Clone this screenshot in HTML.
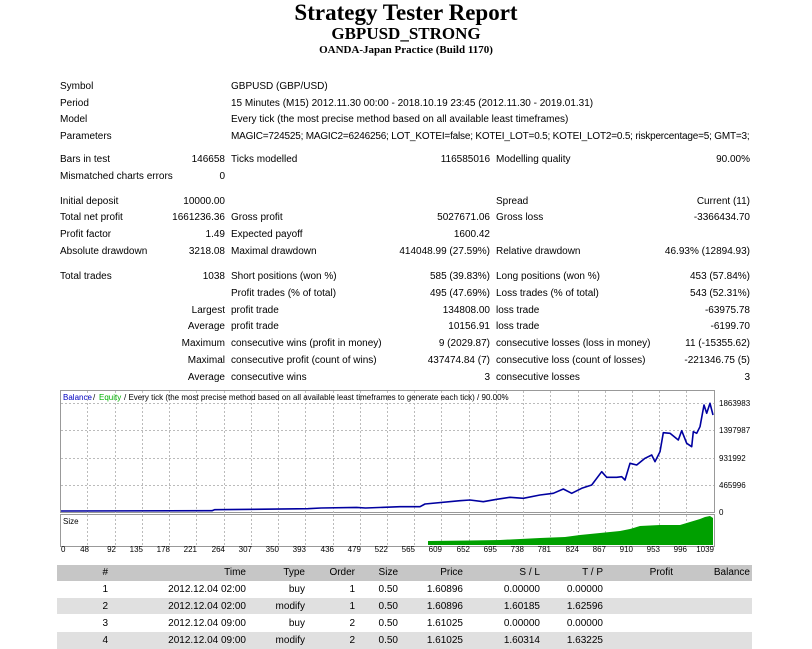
<!DOCTYPE html>
<html><head><meta charset="utf-8"><style>
body{margin:0;width:812px;height:649px;background:#fff;position:relative;overflow:hidden;font-family:"Liberation Sans",sans-serif;font-size:10px;color:#000}
.t{position:absolute;white-space:nowrap;line-height:12px}
.r{text-align:right}
.h{position:absolute;left:0;width:812px;text-align:center;font-family:"Liberation Serif",serif;font-weight:bold;white-space:nowrap}
</style></head><body>
<div class="h" style="top:1px;font-size:23px;line-height:24px">Strategy Tester Report</div>
<div class="h" style="top:24px;font-size:17px;line-height:19px">GBPUSD_STRONG</div>
<div class="h" style="top:44px;font-size:11px;line-height:13px">OANDA-Japan Practice (Build 1170)</div>

<div class="t" style="left:60px;top:81px">Symbol</div><div class="t" style="left:231px;top:81px">GBPUSD (GBP/USD)</div>
<div class="t" style="left:60px;top:98px">Period</div><div class="t" style="left:231px;top:98px">15 Minutes (M15) 2012.11.30 00:00 - 2018.10.19 23:45 (2012.11.30 - 2019.01.31)</div>
<div class="t" style="left:60px;top:114px">Model</div><div class="t" style="left:231px;top:114px">Every tick (the most precise method based on all available least timeframes)</div>
<div class="t" style="left:60px;top:131px">Parameters</div><div class="t" style="left:231px;top:131px;letter-spacing:-0.2px">MAGIC=724525; MAGIC2=6246256; LOT_KOTEI=false; KOTEI_LOT=0.5; KOTEI_LOT2=0.5; riskpercentage=5; GMT=3;</div>

<div class="t" style="left:60px;top:154px">Bars in test</div><div class="t r" style="right:587px;top:154px">146658</div>
<div class="t" style="left:231px;top:154px">Ticks modelled</div><div class="t r" style="right:322px;top:154px">116585016</div>
<div class="t" style="left:496px;top:154px">Modelling quality</div><div class="t r" style="right:62px;top:154px">90.00%</div>
<div class="t" style="left:60px;top:171px">Mismatched charts errors</div><div class="t r" style="right:587px;top:171px">0</div>

<div class="t" style="left:60px;top:196px">Initial deposit</div><div class="t r" style="right:587px;top:196px">10000.00</div>
<div class="t" style="left:496px;top:196px">Spread</div><div class="t r" style="right:62px;top:196px">Current (11)</div>
<div class="t" style="left:60px;top:212px">Total net profit</div><div class="t r" style="right:587px;top:212px">1661236.36</div>
<div class="t" style="left:231px;top:212px">Gross profit</div><div class="t r" style="right:322px;top:212px">5027671.06</div>
<div class="t" style="left:496px;top:212px">Gross loss</div><div class="t r" style="right:62px;top:212px">-3366434.70</div>
<div class="t" style="left:60px;top:229px">Profit factor</div><div class="t r" style="right:587px;top:229px">1.49</div>
<div class="t" style="left:231px;top:229px">Expected payoff</div><div class="t r" style="right:322px;top:229px">1600.42</div>
<div class="t" style="left:60px;top:246px">Absolute drawdown</div><div class="t r" style="right:587px;top:246px">3218.08</div>
<div class="t" style="left:231px;top:246px">Maximal drawdown</div><div class="t r" style="right:322px;top:246px">414048.99 (27.59%)</div>
<div class="t" style="left:496px;top:246px">Relative drawdown</div><div class="t r" style="right:62px;top:246px">46.93% (12894.93)</div>

<div class="t" style="left:60px;top:271px">Total trades</div><div class="t r" style="right:587px;top:271px">1038</div>
<div class="t" style="left:231px;top:271px">Short positions (won %)</div><div class="t r" style="right:322px;top:271px">585 (39.83%)</div>
<div class="t" style="left:496px;top:271px">Long positions (won %)</div><div class="t r" style="right:62px;top:271px">453 (57.84%)</div>
<div class="t" style="left:231px;top:288px">Profit trades (% of total)</div><div class="t r" style="right:322px;top:288px">495 (47.69%)</div>
<div class="t" style="left:496px;top:288px">Loss trades (% of total)</div><div class="t r" style="right:62px;top:288px">543 (52.31%)</div>
<div class="t r" style="right:587px;top:305px">Largest</div><div class="t" style="left:231px;top:305px">profit trade</div><div class="t r" style="right:322px;top:305px">134808.00</div>
<div class="t" style="left:496px;top:305px">loss trade</div><div class="t r" style="right:62px;top:305px">-63975.78</div>
<div class="t r" style="right:587px;top:321px">Average</div><div class="t" style="left:231px;top:321px">profit trade</div><div class="t r" style="right:322px;top:321px">10156.91</div>
<div class="t" style="left:496px;top:321px">loss trade</div><div class="t r" style="right:62px;top:321px">-6199.70</div>
<div class="t r" style="right:587px;top:338px">Maximum</div><div class="t" style="left:231px;top:338px">consecutive wins (profit in money)</div><div class="t r" style="right:322px;top:338px">9 (2029.87)</div>
<div class="t" style="left:496px;top:338px">consecutive losses (loss in money)</div><div class="t r" style="right:62px;top:338px">11 (-15355.62)</div>
<div class="t r" style="right:587px;top:355px">Maximal</div><div class="t" style="left:231px;top:355px">consecutive profit (count of wins)</div><div class="t r" style="right:322px;top:355px">437474.84 (7)</div>
<div class="t" style="left:496px;top:355px">consecutive loss (count of losses)</div><div class="t r" style="right:62px;top:355px">-221346.75 (5)</div>
<div class="t r" style="right:587px;top:372px">Average</div><div class="t" style="left:231px;top:372px">consecutive wins</div><div class="t r" style="right:322px;top:372px">3</div>
<div class="t" style="left:496px;top:372px">consecutive losses</div><div class="t r" style="right:62px;top:372px">3</div>

<svg style="position:absolute;left:0;top:0" width="812" height="649">
<g font-family="Liberation Sans, sans-serif" font-size="8">
<rect x="60.5" y="390.5" width="654" height="122" fill="#fff" stroke="#999"/>
<rect x="60.5" y="514.5" width="654" height="32" fill="#fff" stroke="#999"/>
<g stroke="#bbb" stroke-dasharray="2,2" stroke-width="1">
<line x1="61" x2="714" y1="403.5" y2="403.5"/><line x1="61" x2="714" y1="430.5" y2="430.5"/><line x1="61" x2="714" y1="458.5" y2="458.5"/><line x1="61" x2="714" y1="485.5" y2="485.5"/>
<path d="M87.5 391V546M115.5 391V546M142.5 391V546M169.5 391V546M196.5 391V546M224.5 391V546M251.5 391V546M278.5 391V546M305.5 391V546M333.5 391V546M360.5 391V546M387.5 391V546M414.5 391V546M441.5 391V546M469.5 391V546M496.5 391V546M523.5 391V546M550.5 391V546M578.5 391V546M605.5 391V546M632.5 391V546M659.5 391V546M686.5 391V546"/>
</g>
<line x1="60" x2="715" y1="513.5" y2="513.5" stroke="#fff" stroke-width="1"/>
<polygon fill="#00a000" points="428,545 428,541 470,540.5 500,540 540,538 565,537 580,535 600,533 620,531 630,529 640,526 660,525 680,525 690,522 700,519 705,517 710,516 713,518 713,545"/>
<polyline fill="none" stroke="#0000a0" stroke-width="1.6" stroke-linejoin="round" points="61,511 212,510.7 214.5,509.7 307.8,508.7 321,508 356.6,507.4 365.5,508 400,506.7 420,506.7 425,504 460,500.7 470,500 483.3,501.7 496.7,499.3 510,497.3 523.3,498.3 540,495 553.3,493.3 563.3,489 571.7,493.3 581.7,488.3 591.7,485 601.7,471.7 606.7,477.3 616.7,477.3 621.7,476.7 625,480 630,463.3 636.7,465 645,458.3 651.7,455 655,461.7 660,451.7 663.3,432.7 670,433.3 678.3,440 681.7,430.7 686.7,443.3 691.7,446.7 693.3,431.7 696.7,433.3 700,426.7 704,405 706.7,413.3 710,403.3 713,415"/>
<text x="63" y="400" fill="#0000c0">Balance</text><text x="93" y="400" fill="#000"> / </text><text x="99" y="400" fill="#00b000">Equity</text><text x="124" y="400" fill="#000"> / Every tick (the most precise method based on all available least timeframes to generate each tick) / 90.00%</text>
<text x="63" y="524">Size</text>
<text x="719" y="406">1863983</text><text x="719" y="433">1397987</text><text x="719" y="461">931992</text><text x="719" y="488">465996</text><text x="719" y="515">0</text>
<text x="61" y="552">0</text>
<g text-anchor="end">
<text x="89" y="552">48</text><text x="116" y="552">92</text><text x="143" y="552">135</text><text x="170" y="552">178</text><text x="197" y="552">221</text><text x="225" y="552">264</text><text x="252" y="552">307</text><text x="279" y="552">350</text><text x="306" y="552">393</text><text x="334" y="552">436</text><text x="361" y="552">479</text><text x="388" y="552">522</text><text x="415" y="552">565</text><text x="442" y="552">609</text><text x="470" y="552">652</text><text x="497" y="552">695</text><text x="524" y="552">738</text><text x="551" y="552">781</text><text x="579" y="552">824</text><text x="606" y="552">867</text><text x="633" y="552">910</text><text x="660" y="552">953</text><text x="687" y="552">996</text><text x="714" y="552">1039</text>
</g>
</g>
</svg>

<div style="position:absolute;left:57px;top:565px;width:695px;height:16px;background:#c6c6c6"></div>
<div style="position:absolute;left:57px;top:598px;width:695px;height:16px;background:#e0e0e0"></div>
<div style="position:absolute;left:57px;top:632px;width:695px;height:17px;background:#e0e0e0"></div>
<div style="position:absolute;left:0;top:567px;width:812px">
<div class="t r" style="right:704px;top:0">#</div><div class="t r" style="right:566px;top:0">Time</div><div class="t r" style="right:507px;top:0">Type</div><div class="t r" style="right:457px;top:0">Order</div><div class="t r" style="right:414px;top:0">Size</div><div class="t r" style="right:349px;top:0">Price</div><div class="t r" style="right:272px;top:0">S / L</div><div class="t r" style="right:209px;top:0">T / P</div><div class="t r" style="right:139px;top:0">Profit</div><div class="t r" style="right:62px;top:0">Balance</div>
</div>
<div style="position:absolute;left:0;top:584px;width:812px">
<div class="t r" style="right:704px">1</div><div class="t r" style="right:566px">2012.12.04 02:00</div><div class="t r" style="right:507px">buy</div><div class="t r" style="right:457px">1</div><div class="t r" style="right:414px">0.50</div><div class="t r" style="right:349px">1.60896</div><div class="t r" style="right:272px">0.00000</div><div class="t r" style="right:209px">0.00000</div>
</div>
<div style="position:absolute;left:0;top:601px;width:812px">
<div class="t r" style="right:704px">2</div><div class="t r" style="right:566px">2012.12.04 02:00</div><div class="t r" style="right:507px">modify</div><div class="t r" style="right:457px">1</div><div class="t r" style="right:414px">0.50</div><div class="t r" style="right:349px">1.60896</div><div class="t r" style="right:272px">1.60185</div><div class="t r" style="right:209px">1.62596</div>
</div>
<div style="position:absolute;left:0;top:618px;width:812px">
<div class="t r" style="right:704px">3</div><div class="t r" style="right:566px">2012.12.04 09:00</div><div class="t r" style="right:507px">buy</div><div class="t r" style="right:457px">2</div><div class="t r" style="right:414px">0.50</div><div class="t r" style="right:349px">1.61025</div><div class="t r" style="right:272px">0.00000</div><div class="t r" style="right:209px">0.00000</div>
</div>
<div style="position:absolute;left:0;top:635px;width:812px">
<div class="t r" style="right:704px">4</div><div class="t r" style="right:566px">2012.12.04 09:00</div><div class="t r" style="right:507px">modify</div><div class="t r" style="right:457px">2</div><div class="t r" style="right:414px">0.50</div><div class="t r" style="right:349px">1.61025</div><div class="t r" style="right:272px">1.60314</div><div class="t r" style="right:209px">1.63225</div>
</div>
</body></html>
